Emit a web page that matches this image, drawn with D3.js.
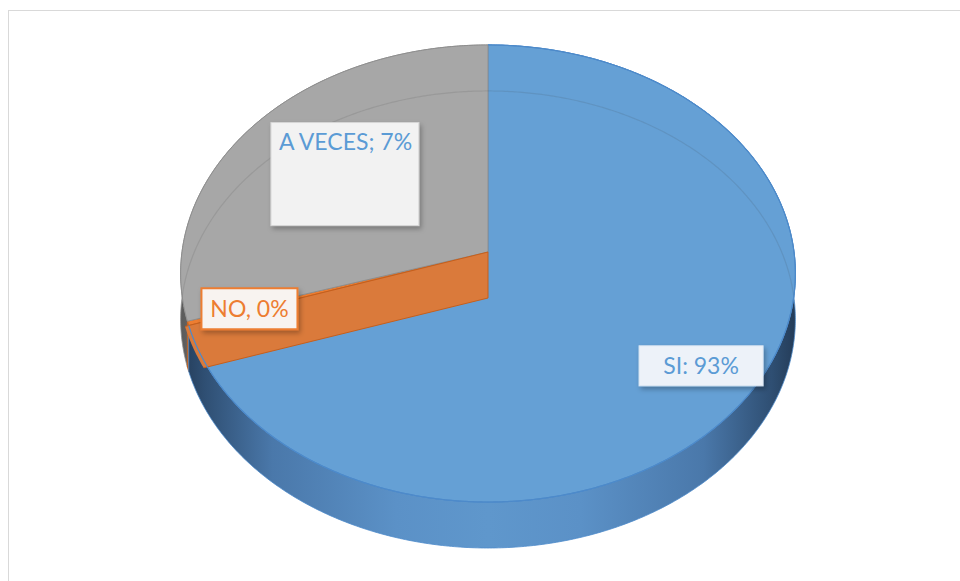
<!DOCTYPE html>
<html>
<head>
<meta charset="utf-8">
<script src="https://cdn.jsdelivr.net/npm/d3@7"></script>
<style>
  body { margin: 0; background: #fff; }
  svg { display: block; }
</style>
</head>
<body>
<script>
// slice shares as drawn, and the percentages the labels show
var categories = ["SI", "NO", "A VECES"];
var sliceShares = [69.9, 0.3, 29.8];
var shownPercents = [93, 0, 7];
var labelSeparators = [": ", ", ", "; "];

var width = 960, height = 581;

// pseudo 3d projection of the pie disc
var cx = 488, cy = 252;
var rx = 306, ry = 226.5;
var persp = 0.094;
var depth = 46;

var topColors = ["#65a0d5", "#ed7d31", "#a7a7a7"];
var edgeColors = ["#4d8aca", "#c9651f", "#8e8e8e"];
var textColors = ["#5b9bd5", "#ed7d31", "#5b9bd5"];
var sideStops = [
  ["#243c58", "#2f4f73", "#4a78aa", "#5b91c7", "#5f97cc", "#5b91c7", "#4a78aa", "#2f4f73", "#243c58"],
  ["#7a3a10", "#9a4c18", "#c9652a", "#dd7434", "#e67a36", "#dd7434", "#c9652a", "#9a4c18", "#7a3a10"],
  ["#5a5a5a", "#6e6e6e", "#8c8c8c", "#9c9c9c", "#a3a3a3", "#9c9c9c", "#8c8c8c", "#6e6e6e", "#5a5a5a"]
];
var stopOffsets = [0, 0.04, 0.15, 0.35, 0.5, 0.65, 0.85, 0.96, 1];

var labelStyle = [
  { r: 0.82, w: 124, h: 40, fill: "#edf2f9", stroke: "#dde8f4", sw: 1, align: "middle" },
  { r: 0.80, w: 96, h: 41, fill: "#f8f3f0", stroke: "#ed7d31", sw: 2, align: "middle" },
  { r: 0.60, w: 148, h: 103, fill: "#f2f2f2", stroke: "#d6d6d6", sw: 1, align: "start" }
];

function proj(theta, r, dy) {
  var u = r * Math.sin(theta);
  var v = -r * Math.cos(theta);
  var w = 1 - persp * v;
  return [cx + rx * u / w, cy + ry * v / w + (dy || 0)];
}

function ringPoints(a0, a1, dy, r) {
  var n = Math.max(2, Math.ceil(Math.abs(a1 - a0) / (Math.PI / 360)));
  return d3.range(n + 1).map(function (i) {
    return proj(a0 + (a1 - a0) * i / n, r || 1, dy);
  });
}

var line = d3.line().curve(d3.curveLinear);

var data = categories.map(function (c, i) {
  return { name: c, value: sliceShares[i], shown: shownPercents[i], sep: labelSeparators[i], idx: i };
});

var arcs = d3.pie()
  .sort(null)
  .value(function (d) { return d.value; })(data);

var svg = d3.select("body")
  .append("svg")
  .attr("width", width)
  .attr("height", height);

var defs = svg.append("defs");

sideStops.forEach(function (stops, i) {
  var g = defs.append("linearGradient")
    .attr("id", "side" + i)
    .attr("gradientUnits", "userSpaceOnUse")
    .attr("x1", cx - rx - 2).attr("x2", cx + rx + 2)
    .attr("y1", 0).attr("y2", 0);
  stops.forEach(function (c, j) {
    g.append("stop").attr("offset", stopOffsets[j]).attr("stop-color", c);
  });
});

var topRing = line(ringPoints(0, 2 * Math.PI, 0)) + "Z";
var bottomRing = line(ringPoints(0, 2 * Math.PI, depth)) + "Z";

defs.append("clipPath")
  .attr("id", "topClip")
  .append("path")
  .attr("d", topRing);

defs.append("clipPath")
  .attr("id", "wallClip")
  .append("path")
  .attr("d", line(ringPoints(0, 2 * Math.PI, 0, 1.012)) + "Z");

var shadow = defs.append("filter")
  .attr("id", "shadow")
  .attr("x", "-20%").attr("y", "-20%")
  .attr("width", "140%").attr("height", "160%");
shadow.append("feDropShadow")
  .attr("dx", 2).attr("dy", 3)
  .attr("stdDeviation", 2.5)
  .attr("flood-color", "#000")
  .attr("flood-opacity", 0.28);

// chart frame
svg.append("rect")
  .attr("x", 8.5).attr("y", 10.5)
  .attr("width", width + 20).attr("height", height + 20)
  .attr("fill", "none")
  .attr("stroke", "#d9d9d9");

// side walls, back slices first
var sideOrder = [2, 1, 0];
svg.append("g")
  .selectAll("path")
  .data(sideOrder.map(function (i) { return arcs[i]; }))
  .enter()
  .append("path")
  .attr("d", function (d) {
    var top = ringPoints(d.startAngle, d.endAngle, 0);
    var bottom = ringPoints(d.startAngle, d.endAngle, depth).reverse();
    return line(top.concat(bottom)) + "Z";
  })
  .attr("fill", function (d) { return "url(#side" + d.data.idx + ")"; })
  .attr("stroke", function (d) { return edgeColors[d.data.idx]; })
  .attr("stroke-width", 0.8);

// top faces
svg.append("g")
  .selectAll("path")
  .data(arcs)
  .enter()
  .append("path")
  .attr("d", function (d) {
    return line([[cx, cy]].concat(ringPoints(d.startAngle, d.endAngle, 0))) + "Z";
  })
  .attr("fill", function (d) { return topColors[d.data.idx]; })
  .attr("stroke", function (d) { return edgeColors[d.data.idx]; })
  .attr("stroke-width", 1)
  .attr("stroke-linejoin", "round");

// bottom rim seen through the top
svg.append("path")
  .attr("d", bottomRing)
  .attr("clip-path", "url(#topClip)")
  .attr("fill", "none")
  .attr("stroke", "#3c3c3c")
  .attr("stroke-opacity", 0.13)
  .attr("stroke-width", 1.2);

// cut wall of the thin slice
var thin = arcs[1];
var wallTop = proj(thin.startAngle, 1.06, 0);
var wallBot = proj(thin.startAngle, 1.06, depth);
svg.append("path")
  .attr("clip-path", "url(#wallClip)")
  .attr("d", line([[cx, cy], wallTop, wallBot, [cx, cy + depth]]) + "Z")
  .attr("fill", "#da7a3b")
  .attr("stroke", "#c65f1c")
  .attr("stroke-width", 1);

// rim of the first slice drawn over the wall
svg.append("path")
  .attr("d", line(ringPoints(arcs[0].startAngle, arcs[0].endAngle, 0)))
  .attr("fill", "none")
  .attr("stroke", edgeColors[0])
  .attr("stroke-width", 1.2);

// data labels
var label = svg.append("g")
  .selectAll("g")
  .data(arcs)
  .enter()
  .append("g")
  .attr("transform", function (d) {
    var s = labelStyle[d.data.idx];
    var mid = (d.startAngle + d.endAngle) / 2;
    var p = proj(mid, s.r, 0);
    return "translate(" + (p[0] - s.w / 2) + "," + (p[1] - s.h / 2) + ")";
  });

label.append("rect")
  .attr("width", function (d) { return labelStyle[d.data.idx].w; })
  .attr("height", function (d) { return labelStyle[d.data.idx].h; })
  .attr("fill", function (d) { return labelStyle[d.data.idx].fill; })
  .attr("stroke", function (d) { return labelStyle[d.data.idx].stroke; })
  .attr("stroke-width", function (d) { return labelStyle[d.data.idx].sw; })
  .attr("filter", "url(#shadow)");

label.append("text")
  .attr("x", function (d) {
    var s = labelStyle[d.data.idx];
    return s.align === "middle" ? s.w / 2 : 8;
  })
  .attr("y", function (d) {
    var s = labelStyle[d.data.idx];
    return s.align === "middle" ? s.h / 2 + 8.5 : 27;
  })
  .attr("text-anchor", function (d) { return labelStyle[d.data.idx].align; })
  .attr("font-family", "Lato, 'Open Sans', sans-serif")
  .attr("font-size", 23)
  .attr("fill", function (d) { return textColors[d.data.idx]; })
  .text(function (d) {
    return d.data.name + d.data.sep + d.data.shown + "%";
  });
</script>
</body>
</html>
